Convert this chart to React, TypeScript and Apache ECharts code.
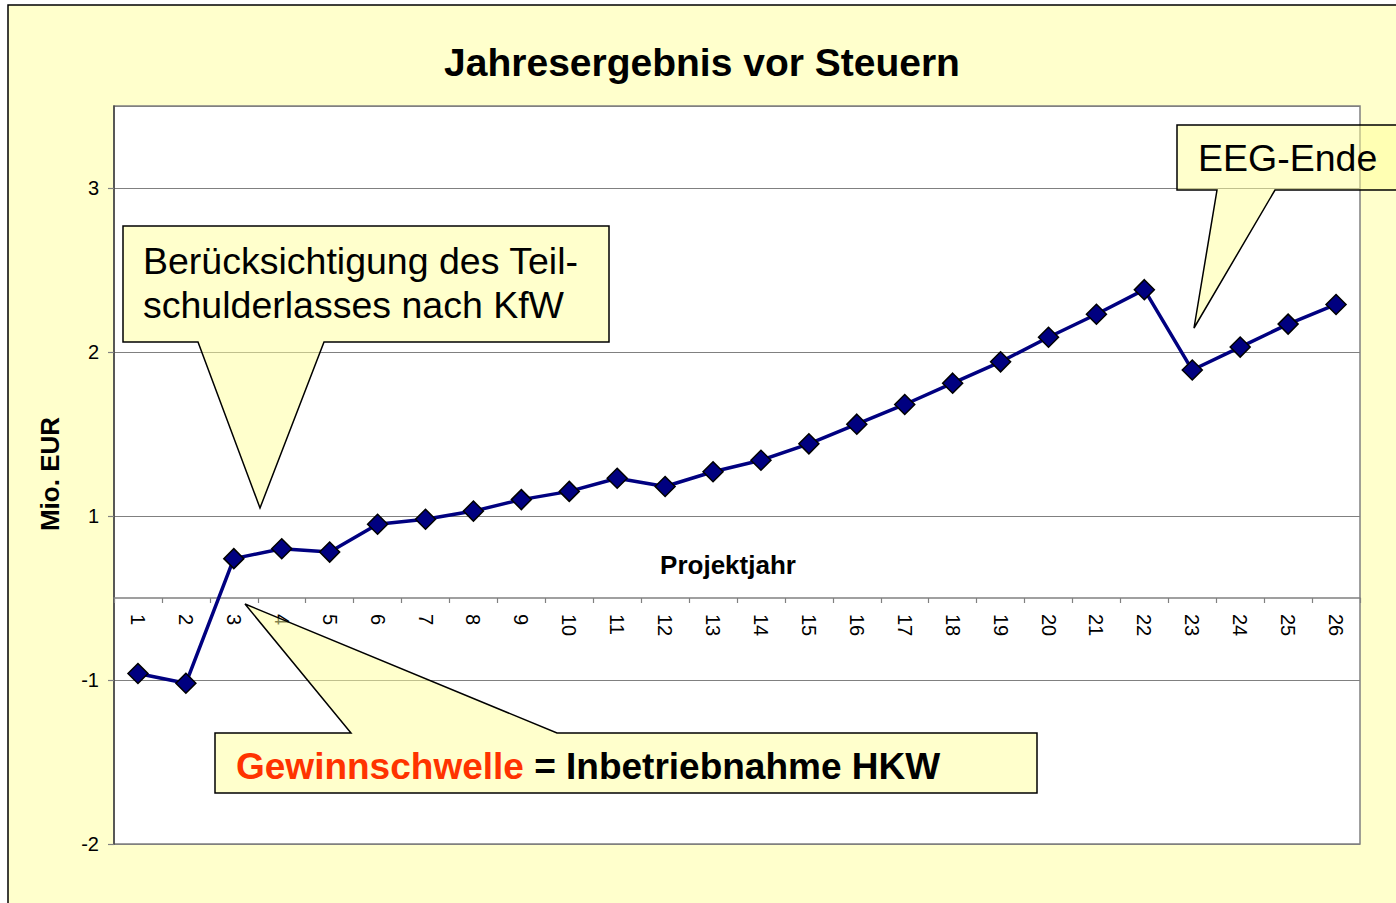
import React, { useEffect, useRef } from "react";
import * as echarts from "echarts";

const categories = ["1","2","3","4","5","6","7","8","9","10","11","12","13","14","15","16","17","18","19","20","21","22","23","24","25","26"];
const values = [-0.46, -0.52, 0.24, 0.30, 0.28, 0.45, 0.48, 0.53, 0.60, 0.65, 0.73, 0.68, 0.77, 0.84, 0.94, 1.06, 1.18, 1.31, 1.44, 1.59, 1.73, 1.88, 1.39, 1.53, 1.67, 1.79];
// gridline values (true scale), displayed with Excel "0" format rounding
const gridValues = [-1.5, -0.5, 0.5, 1.5, 2.5];
const yMin = -1.5;
const yMax = 3;

const FONT = "'Liberation Sans', Arial, sans-serif";

function excelRound(v: number): string {
  const r = v < 0 ? -Math.round(-v) : Math.round(v);
  return String(r);
}

export default function App() {
  const ref = useRef<HTMLDivElement>(null);
  useEffect(() => {
    if (!ref.current) return;
    const chart = echarts.init(ref.current, undefined, { renderer: "svg" });
    const gridOffset = gridValues[0] - Math.ceil(gridValues[0]); // -0.5
    const gridTop = 106;
    const gridBottom = 59;
    const gridHeight = 903 - gridTop - gridBottom;
    // place the category axis where value 0 sits
    const zeroOffset = -gridHeight * (0 - yMin) / (yMax - yMin);
    chart.setOption({
      animation: false,
      backgroundColor: "#ffffff",
      textStyle: { fontFamily: FONT },
      grid: {
        left: 114,
        right: 36,
        top: gridTop,
        bottom: gridBottom,
        containLabel: false,
        show: true,
        backgroundColor: "#ffffff",
        borderColor: "#808080",
        borderWidth: 1.5,
      },
      xAxis: {
        type: "category",
        data: categories,
        boundaryGap: true,
        position: "bottom",
        offset: zeroOffset,
        axisLine: { onZero: false, lineStyle: { color: "#808080", width: 1.5 } },
        axisTick: { show: true, interval: 0, length: 5, lineStyle: { color: "#808080", width: 1.2 } },
        axisLabel: { interval: 0, rotate: -90, margin: 16, fontSize: 20, color: "#000", fontFamily: FONT },
        splitLine: { show: false },
      },
      yAxis: [
        {
          type: "value",
          min: yMin,
          max: yMax,
          show: false,
          splitLine: { show: false },
        },
        {
          type: "value",
          position: "left",
          min: yMin - gridOffset,
          max: yMax - gridOffset,
          interval: 1,
          axisLine: { show: true, lineStyle: { color: "#404040", width: 1.5 } },
          axisTick: { show: true, length: 6, lineStyle: { color: "#808080", width: 1.2 } },
          axisLabel: {
            margin: 15,
            fontSize: 20,
            color: "#000",
            fontFamily: FONT,
            showMaxLabel: false,
            formatter: (w: number) => {
              if (Math.abs(w - Math.round(w)) > 1e-6) return "";
              const v = w + gridOffset;
              const hit = gridValues.some((g) => Math.abs(g - v) < 1e-6);
              return hit ? excelRound(v) : "";
            },
          },
          splitLine: { show: true, lineStyle: { color: "#808080", width: 1.2 } },
        },
      ],
      series: [
        {
          type: "line",
          yAxisIndex: 0,
          data: values,
          symbol: "diamond",
          symbolSize: 20,
          lineStyle: { color: "#000080", width: 3.5 },
          itemStyle: { color: "#000080", borderColor: "#000000", borderWidth: 1.5 },
          z: 5,
        },
      ],
      graphic: [
        {
          type: "rect",
          z: -10,
          silent: true,
          shape: { x: 8, y: 5, width: 1400, height: 910 },
          style: { fill: "#FFFFCC", stroke: "#000", lineWidth: 1.5 },
        },
        {
          type: "text",
          x: 702,
          y: 62,
          z: 50,
          style: {
            text: "Jahresergebnis vor Steuern",
            font: `bold 39px ${FONT}`,
            fill: "#000",
            align: "center",
            verticalAlign: "middle",
          },
        },
        {
          type: "text",
          x: 50,
          y: 474,
          rotation: Math.PI / 2,
          z: 50,
          style: {
            text: "Mio. EUR",
            font: `bold 26px ${FONT}`,
            fill: "#000",
            align: "center",
            verticalAlign: "middle",
          },
        },
        {
          type: "text",
          x: 728,
          y: 565,
          z: 50,
          style: {
            text: "Projektjahr",
            font: `bold 26px ${FONT}`,
            fill: "#000",
            align: "center",
            verticalAlign: "middle",
          },
        },
        {
          type: "polygon",
          z: 100,
          shape: {
            points: [
              [123, 226], [609, 226], [609, 342], [324, 342], [260, 508], [198, 342], [123, 342],
            ],
          },
          style: { fill: "rgba(255,255,153,0.5)", stroke: "#000", lineWidth: 1.5 },
        },
        {
          type: "text",
          x: 143,
          y: 261,
          z: 101,
          style: { text: "Berücksichtigung des Teil-", font: `37.5px ${FONT}`, fill: "#000", verticalAlign: "middle" },
        },
        {
          type: "text",
          x: 143,
          y: 305,
          z: 101,
          style: { text: "schulderlasses nach KfW", font: `37.5px ${FONT}`, fill: "#000", verticalAlign: "middle" },
        },
        {
          type: "polygon",
          z: 100,
          shape: {
            points: [
              [1177, 125], [1400, 125], [1400, 190], [1275, 190], [1194, 328], [1217, 190], [1177, 190],
            ],
          },
          style: { fill: "rgba(255,255,153,0.5)", stroke: "#000", lineWidth: 1.5 },
        },
        {
          type: "text",
          x: 1198,
          y: 158,
          z: 101,
          style: { text: "EEG-Ende", font: `37.5px ${FONT}`, fill: "#000", verticalAlign: "middle" },
        },
        {
          type: "polygon",
          z: 100,
          shape: {
            points: [
              [215, 733], [351, 733], [245, 604], [557, 733], [1037, 733], [1037, 793], [215, 793],
            ],
          },
          style: { fill: "rgba(255,255,153,0.5)", stroke: "#000", lineWidth: 1.5 },
        },
        {
          type: "text",
          x: 236,
          y: 766,
          z: 101,
          style: {
            text: "{r|Gewinnschwelle}{b| = Inbetriebnahme HKW}",
            verticalAlign: "middle",
            rich: {
              r: { fontSize: 37, fontWeight: "bold", fontFamily: FONT, fill: "#FF3300", color: "#FF3300" },
              b: { fontSize: 37, fontWeight: "bold", fontFamily: FONT, fill: "#000", color: "#000" },
            },
          },
        },
      ],
    });
    return () => chart.dispose();
  }, []);
  return (
    <div
      ref={ref}
      style={{ position: "fixed", left: 0, top: 0, width: 1396, height: 903 }}
    />
  );
}
